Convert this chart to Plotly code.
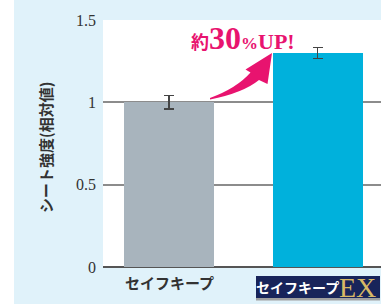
import plotly.graph_objects as go

categories = ["セイフキープ", "セイフキープEX"]
values = [1.0, 1.30]
errors = [0.04, 0.035]
ytick_vals = [0, 0.5, 1, 1.5]
ytick_text = ["0", "0.5", "1", "1.5"]

W, H = 381, 304
L, R, T, B = 103, 0, 20, 37
PW, PH = W - L - R, H - T - B

xs = [0, 1]
xr = [-0.444, 1.426]
yr = [0, 1.5]

def px(xpix):
    return (xpix - L) / PW

def py(ypix):
    return (H - B - ypix) / PH

fig = go.Figure()
fig.add_trace(go.Bar(
    x=xs, y=values, width=0.605,
    marker=dict(color=["#a8b4bd", "#00b1dc"], line=dict(width=0)),
    error_y=dict(type="data", array=errors, color="#444444", thickness=1.3, width=5),
    hoverinfo="skip",
))

shapes = []
shapes.append(dict(type="rect", xref="paper", yref="paper", x0=px(0), x1=px(14), y0=py(H), y1=py(0),
                   fillcolor="white", line=dict(width=0), layer="below"))
pts = "M {},{} Q {},{} {},{} L {},{} L {},{} L {},{} L {},{} Q {},{} {},{} Z".format(
    px(210), py(99.5), px(243), py(93), px(259), py(80),
    px(267.5), py(84), px(272), py(53), px(245.5), py(69.5), px(250.5), py(72.5),
    px(237), py(88), px(210), py(98))
shapes.append(dict(type="path", xref="paper", yref="paper", path=pts,
                   fillcolor="#e8136f", line=dict(width=0)))
shapes.append(dict(type="rect", xref="paper", yref="paper", x0=px(256), x1=px(380), y0=py(298), y1=py(276),
                   fillcolor="#18245a", line=dict(width=0)))
shapes.append(dict(type="rect", xref="paper", yref="paper", x0=px(256), x1=px(380), y0=py(300.5), y1=py(298),
                   fillcolor="#a0a0a0", line=dict(width=0)))

annotations = [
    dict(text="シート強度(相対値)", xref="paper", yref="paper", x=px(45), y=py(148),
         textangle=-90, showarrow=False, xanchor="center", yanchor="middle",
         font=dict(family="Noto Sans CJK JP", size=15, color="#333333", weight="bold")),
    dict(text=categories[0], xref="paper", yref="paper", x=px(169), y=py(282),
         showarrow=False, xanchor="center", yanchor="middle",
         font=dict(family="Noto Sans CJK JP", size=15, color="#333333", weight="bold")),
    dict(text="セイフキープ", xref="paper", yref="paper", x=px(297), y=py(287),
         showarrow=False, xanchor="center", yanchor="middle",
         font=dict(family="Noto Sans CJK JP", size=14, color="white", weight="bold")),
    dict(text="EX", xref="paper", yref="paper", x=px(357), y=py(287),
         showarrow=False, xanchor="center", yanchor="middle",
         font=dict(family="Liberation Serif", size=28, color="#d8b865")),
    dict(text="約<span style='font-family:Liberation Serif;font-size:32px'>30</span>"
              "<span style='font-family:Liberation Serif;font-size:17px'>%</span>"
              "<span style='font-family:Liberation Serif;font-size:22px'>UP!</span>",
         xref="paper", yref="paper", x=px(243), y=py(38),
         showarrow=False, xanchor="center", yanchor="middle",
         font=dict(family="Noto Sans CJK JP", size=18, color="#e8136f", weight="bold")),
]

fig.update_layout(
    width=W, height=H, margin=dict(l=L, r=R, t=T, b=B, pad=0),
    paper_bgcolor="#e0f2fa", plot_bgcolor="white",
    showlegend=False, bargap=0, hovermode=False,
    shapes=shapes, annotations=annotations,
    xaxis=dict(range=xr, showticklabels=False, showgrid=False, zeroline=False,
               showline=False, fixedrange=True),
    yaxis=dict(range=yr, tickvals=ytick_vals, ticktext=ytick_text, showgrid=True,
               gridcolor="#8c8c8c", gridwidth=2, zeroline=True, zerolinecolor="#555555",
               zerolinewidth=2, showline=False, ticks="", ticklabelstandoff=6,
               fixedrange=True,
               tickfont=dict(family="Liberation Serif", size=16, color="#333333")),
)

fig.write_html("out.html", config={"displayModeBar": False},
               post_script="document.body.style.margin='0px';")
